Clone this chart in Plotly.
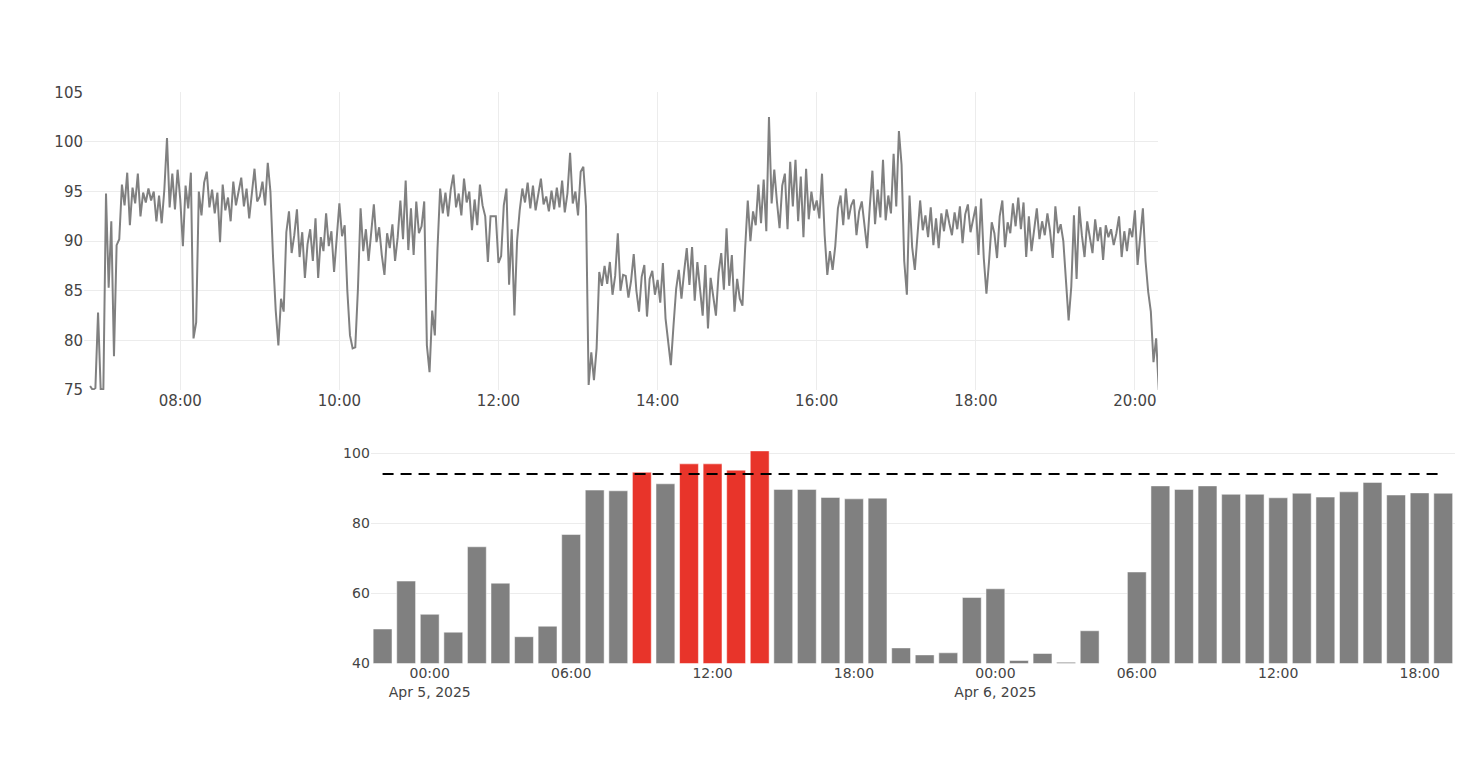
import pandas as pd
import plotly.graph_objects as go

# ---------------- data ----------------
# Top panel: signal sampled every 2 minutes, starting 06:52
line_start = "2025-04-05 06:52"
line_step = "2min"
line_values = [
    75.4, 75.0, 75.2, 82.8,
    # 07:00
    75.0, 75.1, 94.8, 85.3, 92.0, 78.4, 89.6, 90.2, 95.7, 93.6,
    96.9, 91.6, 95.4, 93.8, 96.8, 92.5, 94.9, 93.9, 95.3, 94.1,
    95.0, 92.0, 94.6, 91.8, 95.2, 100.4, 93.4, 96.8, 93.2, 97.2,
    # 08:00
    94.2, 89.5, 95.6, 93.3, 96.9, 80.2, 81.8, 95.0, 92.6, 95.9,
    97.0, 93.4, 95.2, 92.8, 94.9, 89.9, 95.7, 93.1, 94.4, 92.0,
    96.0, 93.6, 95.0, 96.4, 93.5, 95.3, 92.3, 94.8, 97.3, 94.0,
    # 09:00
    94.5, 96.0, 93.6, 97.9, 95.0, 88.3, 83.0, 79.5, 84.2, 82.9,
    90.9, 93.0, 88.8, 90.6, 93.2, 88.4, 90.9, 86.3, 89.7, 91.2,
    88.0, 92.3, 86.3, 90.4, 89.0, 92.8, 89.5, 91.0, 86.9, 90.3,
    # 10:00
    93.8, 90.5, 91.6, 85.0, 80.5, 79.2, 79.3, 85.2, 93.3, 89.0,
    91.2, 88.0, 90.6, 93.7, 89.9, 91.4, 88.6, 86.6, 90.8, 89.3,
    91.7, 88.0, 90.4, 94.1, 90.2, 96.1, 89.1, 93.3, 88.6, 94.0,
    # 11:00
    90.8, 91.5, 94.0, 79.5, 76.8, 83.0, 80.5, 89.2, 95.3, 92.8,
    94.9, 92.5, 95.2, 96.7, 93.4, 94.8, 92.6, 96.3, 93.9, 95.0,
    91.1, 94.2, 91.6, 95.7, 93.6, 92.5, 87.9, 92.5, 92.5, 92.5,
    # 12:00
    87.8, 88.5, 93.6, 95.3, 85.6, 91.2, 82.5, 90.0, 93.1, 95.3,
    93.9, 95.9, 93.3, 95.6, 93.1, 94.6, 96.3, 93.7, 94.5, 93.0,
    95.1, 93.2, 95.4, 93.4, 96.1, 92.9, 94.8, 98.9, 93.8, 95.0,
    # 13:00
    92.6, 97.0, 97.5, 93.5, 75.5, 78.8, 76.0, 79.2, 86.9, 85.5,
    87.5, 85.7, 87.9, 84.6, 86.5, 90.8, 85.0, 86.6, 86.5, 84.3,
    86.0, 88.7, 85.0, 82.9, 86.4, 87.6, 82.4, 86.2, 87.0, 84.6,
    # 14:00
    86.1, 83.8, 87.8, 82.2, 79.7, 77.5, 81.5, 85.2, 87.1, 84.2,
    86.9, 89.3, 85.6, 89.4, 84.0, 87.9, 85.2, 82.5, 87.6, 81.2,
    86.3, 84.6, 82.5, 86.8, 88.8, 85.1, 91.3, 85.5, 88.6, 82.9,
    # 15:00
    86.2, 84.2, 83.5, 89.2, 94.1, 90.0, 93.0, 91.6, 95.7, 91.8,
    96.2, 91.0, 102.5, 93.8, 97.2, 94.0, 91.3, 95.6, 96.8, 91.2,
    98.0, 93.5, 98.2, 92.0, 96.5, 90.4, 97.3, 92.2, 95.0, 93.1,
    # 16:00
    94.1, 92.3, 96.8, 90.6, 86.6, 89.0, 87.1, 89.5, 93.3, 94.6,
    91.6, 95.3, 92.2, 93.6, 94.2, 90.6, 93.0, 94.0, 91.8, 89.3,
    93.4, 97.1, 91.7, 95.2, 92.4, 98.2, 92.1, 94.6, 92.8, 98.8,
    # 17:00
    93.5, 101.1, 97.7, 88.0, 84.6, 94.6, 89.4, 87.1, 90.6, 94.1,
    91.1, 92.6, 90.4, 93.4, 89.6, 92.3, 89.3, 92.8, 91.0, 93.2,
    91.8, 90.6, 92.9, 91.2, 93.5, 89.8, 92.7, 93.7, 90.9, 92.4,
    # 18:00
    93.5, 88.6, 94.3, 88.3, 84.7, 88.0, 91.9, 90.8, 88.3, 92.5,
    94.1, 89.4, 91.9, 90.8, 93.8, 91.5, 94.4, 91.2, 93.9, 88.4,
    92.5, 89.0, 91.4, 93.3, 90.2, 92.0, 90.6, 92.8, 91.0, 88.3,
    # 19:00
    93.5, 90.8, 91.7, 90.0, 86.0, 82.0, 85.4, 92.6, 86.2, 93.5,
    90.6, 88.4, 92.0, 90.3, 88.8, 92.2, 90.0, 91.4, 88.1, 91.6,
    90.4, 91.2, 89.6, 90.8, 92.5, 88.4, 91.0, 89.0, 91.3, 90.4,
    # 20:00
    93.1, 87.6, 90.2, 93.3, 88.0, 84.9, 82.9, 77.8, 80.2, 75.0,
]

# Bottom panel: hourly values starting Apr 4 22:00
bar_start = "2025-04-04 22:00"
bar_values = [
    49.8, 63.5,
    54.0, 48.9, 73.3, 62.9, 47.6, 50.6, 76.8, 89.5, 89.3, 94.6, 91.3, 97.0,
    97.0, 95.2, 100.7, 89.7, 89.7, 87.4, 87.0, 87.2, 44.4, 42.4, 43.0, 58.8,
    61.3, 40.8, 42.8, 40.3, 49.3, None, 66.1, 90.7, 89.7, 90.7, 88.3, 88.3,
    87.3, 88.6, 87.5, 89.0, 91.7, 88.1, 88.7, 88.6,
]
threshold = 94.1

top_x_range = ["2025-04-05 06:47:24", "2025-04-05 20:17:24"]
top_y_range = [75, 105]
bot_x_range = ["2025-04-04 21:30", "2025-04-06 19:30"]
bot_y_range = [40, 100.7]

GRAY = "#808080"
RED = "#E8342A"

# ---------------- figure ----------------
W, H = 1470, 762
OFF = 8  # page body margin in the browser
line_times = pd.date_range(line_start, periods=len(line_values), freq=line_step)
bar_times = pd.date_range(bar_start, periods=len(bar_values), freq="1h")
bar_colors = [RED if (v is not None and v > threshold) else GRAY for v in bar_values]

fig = go.Figure()
fig.add_trace(go.Scatter(
    x=line_times, y=line_values, mode="lines",
    line=dict(color=GRAY, width=2), xaxis="x", yaxis="y", showlegend=False,
))
fig.add_trace(go.Bar(
    x=bar_times, y=bar_values,
    marker=dict(color=bar_colors, line=dict(color="white", width=0.5)),
    xaxis="x2", yaxis="y2", showlegend=False,
))
fig.add_trace(go.Scatter(
    x=[bar_times[0], bar_times[-1]], y=[threshold, threshold], mode="lines",
    line=dict(color="black", width=2, dash="11px,7px"),
    xaxis="x2", yaxis="y2", showlegend=False,
))

def px_x(p):
    return (p - OFF) / W

def px_y(p):
    return 1 - (p - OFF) / H

grid = "#ececec"
fig.update_layout(
    template="plotly_white",
    width=W, height=H,
    margin=dict(l=0, r=0, t=0, b=0),
    paper_bgcolor="white", plot_bgcolor="white",
    font=dict(family="Verdana, DejaVu Sans, sans-serif", color="#444", size=14),
    showlegend=False,
    bargap=0.2,
    xaxis=dict(
        domain=[px_x(84), px_x(1158)], anchor="y", range=top_x_range,
        type="date", tickformat="%H:%M", dtick=2 * 3600 * 1000,
        tick0="2025-04-05 00:00", showgrid=True, gridcolor=grid,
        zeroline=False, showline=False, automargin=False,
        tickfont=dict(size=15),
    ),
    yaxis=dict(
        domain=[px_y(390), px_y(92.3)], anchor="x", range=top_y_range,
        dtick=5, showgrid=True, gridcolor=grid, zeroline=False,
        showline=False, automargin=False, tickfont=dict(size=15),
    ),
    xaxis2=dict(
        domain=[px_x(370.8), px_x(1455)], anchor="y2", range=bot_x_range,
        type="date", dtick=6 * 3600 * 1000, tick0="2025-04-05 00:00",
        showgrid=False, zeroline=False, showline=False, automargin=False,
        tickfont=dict(size=14),
    ),
    yaxis2=dict(
        domain=[px_y(663.3), px_y(450.9)], anchor="x2", range=bot_y_range,
        dtick=20, showgrid=True, gridcolor=grid, zeroline=False,
        showline=False, automargin=False, tickfont=dict(size=14),
    ),
)

fig.write_html("out.html")
